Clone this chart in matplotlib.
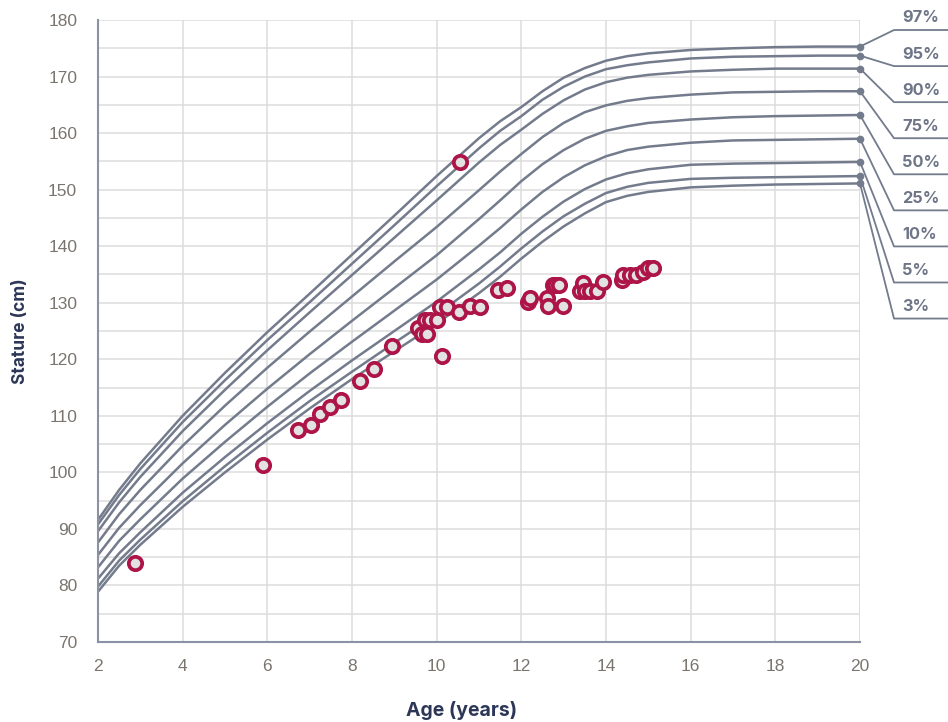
## courbe de croissance - stature / age (filles, 2-20 ans)
import numpy as np
import matplotlib
matplotlib.use("Agg")
import matplotlib.pyplot as plt

# ages des courbes de reference (annees)
ages = [2, 2.5, 3, 4, 5, 6, 7, 8, 9, 10, 11, 11.5, 12, 12.5, 13, 13.5, 14, 14.5, 15, 16, 17, 18, 19, 20]

# percentiles (cm)
p3  = [78.9, 83.5, 87.2, 93.9, 100.0, 105.8, 111.3, 116.5, 121.4, 126.3, 131.7, 134.6, 137.8, 140.8, 143.5, 145.8, 147.8, 148.9, 149.6, 150.4, 150.7, 150.9, 151.0, 151.1]
p5  = [79.8, 84.4, 88.1, 94.9, 101.1, 107.0, 112.6, 117.8, 122.9, 127.9, 133.4, 136.4, 139.6, 142.6, 145.3, 147.5, 149.4, 150.5, 151.2, 151.9, 152.1, 152.2, 152.3, 152.4]
p10 = [81.2, 85.7, 89.4, 96.4, 102.7, 108.7, 114.4, 119.8, 125.0, 130.2, 135.9, 138.9, 142.2, 145.2, 147.9, 150.1, 151.8, 152.9, 153.6, 154.4, 154.6, 154.7, 154.8, 154.9]
p25 = [83.2, 87.9, 91.7, 98.9, 105.4, 111.6, 117.5, 123.1, 128.6, 134.1, 140.1, 143.2, 146.5, 149.6, 152.2, 154.3, 155.9, 157.0, 157.6, 158.3, 158.7, 158.8, 158.9, 159.0]
p50 = [85.4, 90.2, 94.2, 101.6, 108.4, 114.8, 120.9, 126.8, 132.6, 138.4, 144.8, 148.1, 151.5, 154.5, 157.0, 159.0, 160.4, 161.2, 161.8, 162.4, 162.8, 163.0, 163.1, 163.2]
p75 = [87.6, 92.6, 96.9, 104.7, 111.8, 118.5, 124.9, 131.1, 137.3, 143.4, 149.9, 153.2, 156.3, 159.3, 161.8, 163.7, 164.9, 165.7, 166.2, 166.8, 167.2, 167.3, 167.4, 167.4]
p90 = [89.6, 94.7, 99.2, 107.3, 114.6, 121.6, 128.3, 134.9, 141.5, 148.1, 154.8, 157.9, 160.6, 163.4, 165.8, 167.7, 169.0, 169.8, 170.3, 170.9, 171.2, 171.4, 171.4, 171.4]
p95 = [90.8, 96.0, 100.6, 108.9, 116.3, 123.4, 130.1, 136.9, 143.7, 150.6, 157.3, 160.4, 163.0, 165.9, 168.2, 170.0, 171.3, 172.0, 172.5, 173.2, 173.5, 173.6, 173.7, 173.7]
p97 = [91.6, 96.9, 101.6, 110.0, 117.6, 124.8, 131.6, 138.5, 145.4, 152.4, 159.1, 162.1, 164.6, 167.4, 169.8, 171.5, 172.8, 173.6, 174.1, 174.7, 175.0, 175.2, 175.3, 175.3]

courbes = [p97, p95, p90, p75, p50, p25, p10, p5, p3]
etiquettes = ["97%", "95%", "90%", "75%", "50%", "25%", "10%", "5%", "3%"]

# mesures de la patiente
age_mes = [2.87, 5.89, 6.73, 7.03, 7.24, 7.49, 7.75, 8.19, 8.53, 8.95,
           9.57, 9.65, 9.76, 9.72, 9.84, 10.0, 10.12, 10.08, 10.24, 10.53,
           10.55, 10.79, 11.02, 11.46, 11.65, 12.16, 12.2, 12.6, 12.64, 12.75,
           12.8, 12.9, 12.99, 13.39, 13.46, 13.5, 13.62, 13.78, 13.94, 14.37,
           14.41, 14.57, 14.72, 14.88, 14.99, 15.1]
stat_mes = [84.0, 101.3, 107.5, 108.4, 110.4, 111.5, 112.8, 116.2, 118.2, 122.4,
            125.6, 124.4, 124.4, 127.0, 127.0, 127.0, 120.5, 129.3, 129.3, 128.3,
            154.9, 129.4, 129.3, 132.3, 132.6, 130.2, 130.8, 130.8, 129.4, 133.1,
            133.2, 133.2, 129.4, 132.0, 133.5, 132.0, 132.0, 132.0, 133.6, 134.0,
            134.9, 134.9, 134.9, 135.5, 136.1, 136.1]

gris_courbe = "#737b8c"
gris_axe = "#8c92a6"
gris_txt = "#7a756f"
bleu_titre = "#2c3656"

fig = plt.figure(figsize=(9.48, 7.22), dpi=100)
ax = fig.add_axes([98/948, 80/722, 762/948, 622/722])

ax.set_xlim(2, 20)
ax.set_ylim(70, 180)
ax.set_xticks(range(2, 21, 2))
ax.set_yticks(range(70, 181, 10))
ax.set_yticks(range(75, 180, 10), minor=True)
ax.grid(True, which="both", color="#dcdcdc", linewidth=1.1)
ax.set_axisbelow(True)
for s in ["top", "right"]:
    ax.spines[s].set_visible(False)
for s in ["left", "bottom"]:
    ax.spines[s].set_color(gris_axe)
    ax.spines[s].set_linewidth(1.5)
ax.tick_params(which="both", length=0)
ax.tick_params(axis="y", pad=15)
ax.tick_params(axis="x", pad=12)
for lab in ax.get_xticklabels() + ax.get_yticklabels():
    lab.set_fontfamily("Liberation Sans")
    lab.set_fontsize(12.5)
    lab.set_color(gris_txt)
# ligne verticale a 20 ans
ax.axvline(20, color="#dcdcdc", linewidth=1.1, zorder=0)

ax.set_xlabel("Age (years)", fontsize=14, fontweight="bold", color=bleu_titre, family="Inter")
ax.set_ylabel("Stature (cm)", fontsize=12.5, fontweight="bold", color=bleu_titre, family="Inter")
ax.xaxis.set_label_coords((462 - 98) / 762, -(701 - 642) / 622)
ax.yaxis.set_label_coords(-(98 - 29) / 762, 0.5)

# courbes de percentiles + etiquettes a droite
for i, (c, lab) in enumerate(zip(courbes, etiquettes)):
    ax.plot(ages, c, color=gris_courbe, linewidth=1.8, zorder=2)
    ax.plot(ages[-1], c[-1], "o", color=gris_courbe, markersize=4.5, zorder=3, clip_on=False)
    y_ligne = 180 - (30.7 + 36 * i - 20.7) / 5.644
    x0 = 2 + (894 - 98) / 42.333
    x1 = 2 + (948 - 98) / 42.333
    ax.plot([20, x0, x1], [c[-1], y_ligne, y_ligne], color=gris_courbe,
            linewidth=1.3, clip_on=False, zorder=2)
    ax.text(x0 + 0.2, y_ligne + 0.8, lab, fontsize=11.8, fontweight="bold",
            color="#6e7587", family="Inter", va="bottom", ha="left", clip_on=False)

ax.plot(age_mes, stat_mes, "o", markersize=9.6, markerfacecolor="#e2e2e2",
        markeredgecolor="#ad1447", markeredgewidth=2.7, zorder=4, linestyle="none")

fig.savefig("out.png", dpi=100)
